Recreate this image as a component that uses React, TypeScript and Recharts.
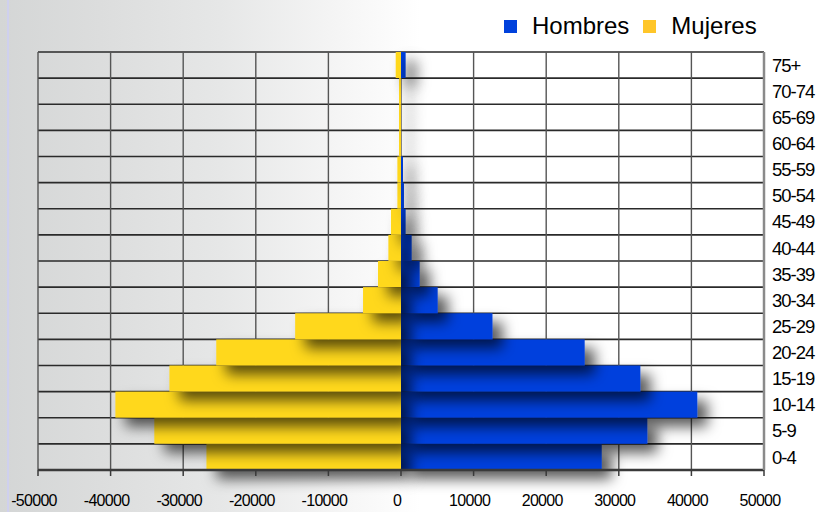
import React from 'react';
import { BarChart, Bar, XAxis, YAxis, CartesianGrid, Legend } from 'recharts';

const ageGroups = ['0-4', '5-9', '10-14', '15-19', '20-24', '25-29', '30-34', '35-39', '40-44', '45-49', '50-54', '55-59', '60-64', '65-69', '70-74', '75+'];
const hombres = [27650, 33930, 40810, 32970, 25300, 12600, 5050, 2570, 1470, 640, 410, 275, 0, 0, 0, 640];
const mujeres = [-26800, -33980, -39340, -31900, -25450, -14580, -5230, -3170, -1740, -1380, -500, -500, -275, -275, -275, -730];
const xTicks = [-50000, -40000, -30000, -20000, -10000, 0, 10000, 20000, 30000, 40000, 50000];
const seriesNames = ['Hombres', 'Mujeres'];
const legendColors = ['#0041DC', '#FFC629'];

const BLUE = '#0040DD';
const YELLOW = '#FFD81F';

const data = ageGroups.map((age, i) => ({ age, Hombres: hombres[i], Mujeres: mujeres[i] }));

const ShadowBar = (props: any) => {
  const { x, y, width, height, fill } = props;
  if (width == null || height == null) return null;
  const nx = width < 0 ? x + width : x;
  const w = Math.abs(width);
  if (w < 0.01) return null;
  return <rect x={nx} y={y} width={w} height={height} fill={fill} filter="url(#barShadow)" />;
};

const LegendContent = () => (
  <div style={{ height: 44, boxSizing: 'border-box', paddingTop: 6, display: 'flex', alignItems: 'flex-start', fontSize: 24, lineHeight: '24px', color: '#000', fontFamily: '"Liberation Sans", Arial, sans-serif' }}>
    {seriesNames.map((n, i) => (
      <div key={n} style={{ display: 'flex', alignItems: 'center', marginLeft: i === 0 ? 0 : 14 }}>
        <span style={{ display: 'inline-block', width: 13, height: 13, background: legendColors[i], marginRight: 15 }} />
        <span>{n}</span>
      </div>
    ))}
  </div>
);

const fmt = (v: number) => String(v);

export default function App() {
  return (
    <div
      style={{
        position: 'fixed',
        left: 0,
        top: 0,
        width: 826,
        height: 512,
        fontFamily: '"Liberation Sans", Arial, sans-serif',
        background:
          'linear-gradient(to right, rgba(255,255,255,0) 7px, #cfd0ee 7px, #cfd0ee 9px, rgba(255,255,255,0) 9px), linear-gradient(to right, #d4d6d6 0px, #dcdddd 100px, #e6e7e7 220px, #f4f4f4 330px, #ffffff 420px)',
      }}
    >
      <BarChart
        width={826}
        height={512}
        data={data}
        layout="vertical"
        stackOffset="sign"
        barCategoryGap={0}
        margin={{ top: 8, right: 0, bottom: 0, left: 38 }}
      >
        <defs>
          <filter id="barShadow" filterUnits="userSpaceOnUse" x="0" y="0" width="826" height="512">
            <feDropShadow dx="10" dy="9" stdDeviation="7" floodColor="#000" floodOpacity="0.65" />
          </filter>
        </defs>
        <CartesianGrid
          vertical={false}
          stroke="#2a2a2a"
          strokeWidth={1.6}
          horizontalCoordinatesGenerator={({ offset }: any) =>
            Array.from({ length: ageGroups.length + 1 }, (_, i) => offset.top + (i * offset.height) / ageGroups.length)
          }
        />
        <CartesianGrid horizontal={false} stroke="#555" strokeWidth={1.4} />
        <XAxis
          type="number"
          domain={[-50000, 50000]}
          ticks={xTicks}
          tickFormatter={fmt}
          height={42}
          tickSize={6}
          tickMargin={19}
          axisLine={{ stroke: '#3a3a3a', strokeWidth: 2.5 }}
          tickLine={{ stroke: '#3a3a3a', strokeWidth: 1.5 }}
          tick={{ fontSize: 16, fill: '#000', dx: -4, letterSpacing: -0.7 }}
        />
        <YAxis
          type="category"
          dataKey="age"
          orientation="right"
          reversed
          width={62}
          tickLine={false}
          tickSize={6}
          tickMargin={2}
          axisLine={{ stroke: '#8a8a8a', strokeWidth: 2.5 }}
          tick={{ fontSize: 18.5, fill: '#000', letterSpacing: -1 }}
          interval={0}
        />
        <Legend verticalAlign="top" align="right" content={<LegendContent />} wrapperStyle={{ left: 504, right: 'auto', width: 'auto' }} />
        <Bar dataKey="Hombres" stackId="p" fill={BLUE} isAnimationActive={false} shape={ShadowBar} />
        <Bar dataKey="Mujeres" stackId="p" fill={YELLOW} isAnimationActive={false} shape={ShadowBar} />
      </BarChart>
    </div>
  );
}
